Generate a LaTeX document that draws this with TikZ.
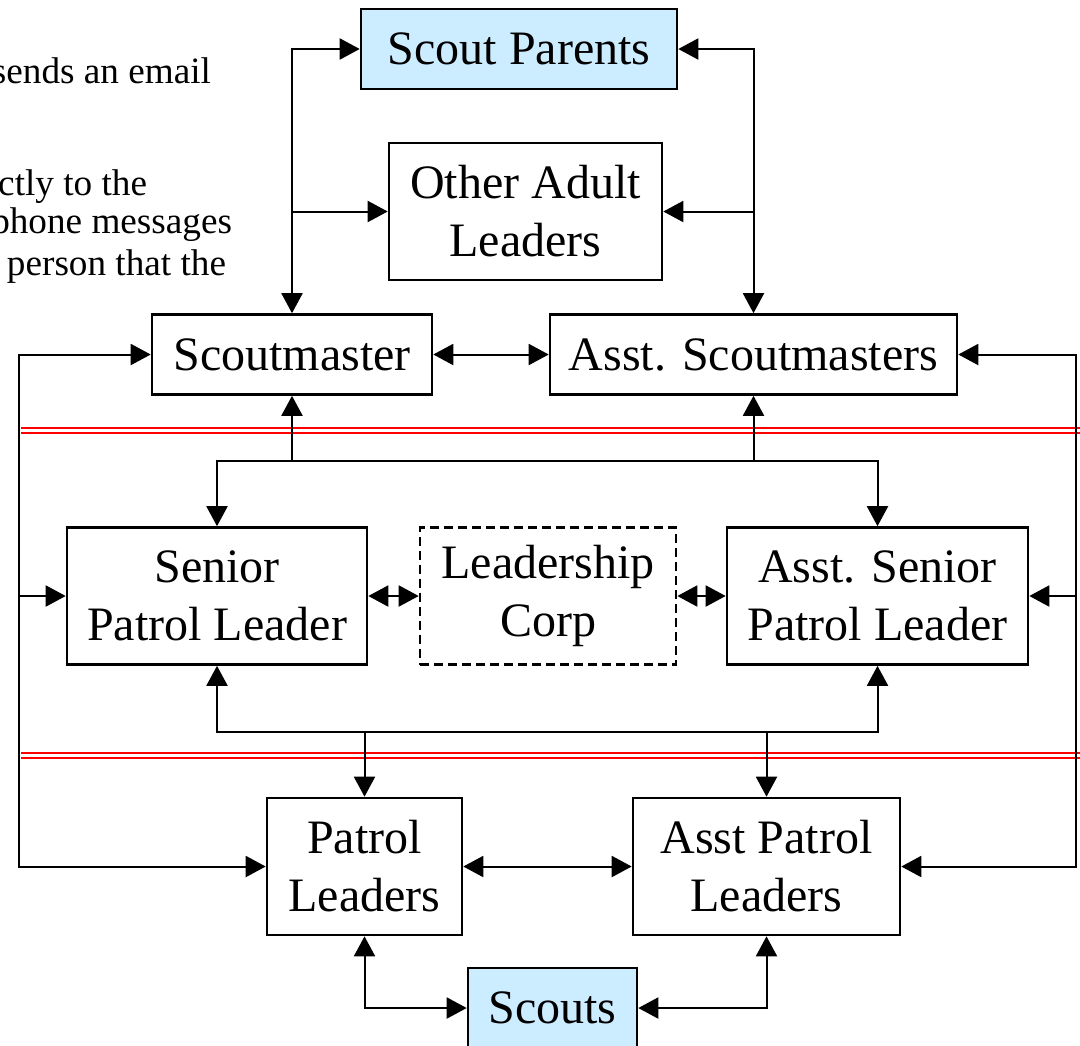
\documentclass[tikz,border=0pt]{standalone}
\usepackage{fontspec}
\setmainfont{Liberation Serif}
\usetikzlibrary{arrows.meta}
\definecolor{parentblue}{RGB}{204,236,255}
\tikzset{
  box/.style={draw,line width=1.3pt,inner sep=0pt,minimum height=40pt,align=center,font=\fontsize{24}{29}\selectfont},
  tallbox/.style={box,minimum height=68.5pt},
  note/.style={anchor=base east,inner sep=0pt,font=\fontsize{18.6}{21}\selectfont}
}
\begin{document}
\begin{tikzpicture}[x=0.5pt,y=-0.5pt,line width=1pt,>={Triangle[length=10pt,width=10.5pt]}]
\useasboundingbox (0,0) rectangle (1080,1045);

\draw[red] (21,428) -- (1080,428) (21,433) -- (1080,433);
\draw[red] (21,753) -- (1080,753) (21,758) -- (1080,758);

\node(note1) at (212,83)[note]  {sends an email};
\node(note2) at (148,195)[note] {ctly to the};
\node(note3) at (233,233)[note] {phone messages};
\node(note4) at (227,275)[note] {person that the};

\node(parents) at (519,49)[box,fill=parentblue,minimum width=158pt]   {Scout Parents};
\node(other) at (525.5,211.5)[tallbox,minimum width=136.5pt]           {Other Adult\\Leaders};
\node(sm) at (292,354.5)[box,minimum width=140pt]                      {Scoutmaster};
\node(asm) at (753.5,354.5)[box,minimum width=203.5pt]                 {Asst. Scoutmasters};
\node(spl) at (217,596)[tallbox,minimum width=150pt]                   {Senior\\Patrol Leader};
\node(corp) at (548,596)[tallbox,dash pattern=on 4.5pt off 2.5pt,minimum width=128pt] {Leadership\\Corp};
\node(aspl) at (877.5,596)[tallbox,minimum width=150.5pt]              {Asst. Senior\\Patrol Leader};
\node(pl) at (364.5,866.5)[tallbox,minimum width=97.5pt]               {Patrol\\Leaders};
\node(apl) at (766.5,866.5)[tallbox,minimum width=133.5pt]             {Asst Patrol\\Leaders};
\node(scouts) at (552.5,1008)[box,fill=parentblue,minimum width=84.5pt] {Scouts};

\coordinate(bus1) at (548,461);
\coordinate(bus2) at (548,732);
\coordinate(lrail) at (19,600);
\coordinate(rrail) at (1076,600);

\draw[<->] (sm) |- (parents);
\draw[<->] (asm) |- (parents);
\draw[->] (sm.north |- other) -- (other);
\draw[->] (asm.north |- other) -- (other);

\path [<->]
  (sm)     edge                 (asm)
  (spl)    edge                 (corp)
  (corp)   edge                 (aspl)
  (pl)     edge                 (apl);

\draw[->] (bus1 -| sm) -- (sm);
\draw[->] (bus1 -| asm) -- (asm);
\draw[<->] (spl) |- (bus1 -| aspl) -- (aspl);

\draw[<->] (spl) |- (bus2 -| aspl) -- (aspl);
\draw[->] (bus2 -| pl) -- (pl);
\draw[->] (bus2 -| apl) -- (apl);

\draw[<->] (pl) |- (scouts);
\draw[<->] (apl) |- (scouts);

\draw[<->] (sm) -| (lrail) |- (pl);
\draw[->] (lrail |- spl) -- (spl);
\draw[<->] (asm) -| (rrail) |- (apl);
\draw[->] (rrail |- aspl) -- (aspl);

\end{tikzpicture}
\end{document}
